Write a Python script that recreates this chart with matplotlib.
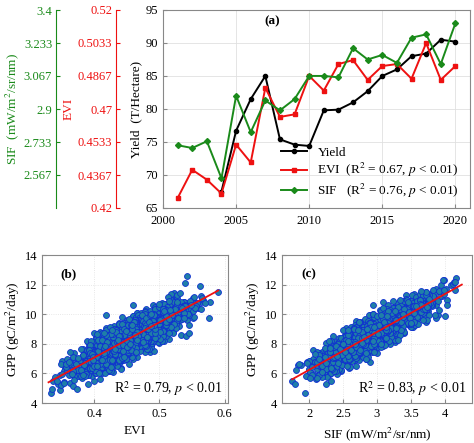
import numpy as np
import matplotlib
matplotlib.use("Agg")
import matplotlib.pyplot as plt
from matplotlib.ticker import FormatStrFormatter

plt.rcParams['font.family'] = ['Liberation Serif', 'DejaVu Serif']
plt.rcParams['font.size'] = 9
plt.rcParams['mathtext.fontset'] = 'stix'

years_yield = list(range(2004, 2021))
yield_vals = [67.5, 76.7, 81.5, 85.0, 75.4, 74.6, 74.4, 79.8, 79.9, 81.0,
              82.7, 85.0, 86.0, 88.0, 88.4, 90.5, 90.2]
years_vi = list(range(2001, 2021))
evi_vals = [0.4250, 0.4393, 0.4343, 0.4273, 0.4520, 0.4430, 0.4807, 0.4660,
            0.4673, 0.4867, 0.4793, 0.4927, 0.4947, 0.4847, 0.4917, 0.4927,
            0.4853, 0.5033, 0.4847, 0.4917]
sif_vals = [2.717, 2.703, 2.737, 2.550, 2.967, 2.783, 2.943, 2.893, 2.950,
            3.067, 3.067, 3.060, 3.207, 3.150, 3.173, 3.133, 3.260, 3.277,
            3.127, 3.333]

# regression lines for panels (b) and (c)
evi_line_x = [0.33, 0.59]
evi_line_y = [5.4, 11.6]
sif_line_x = [1.75, 4.25]
sif_line_y = [5.6, 12.0]

# point clouds: too many points to read one by one, so approximate the cloud
rng = np.random.default_rng(3)

def cloud(mu, sd, lo, hi, n):
    v = rng.normal(mu, sd, n * 2)
    v = v[(v > lo) & (v < hi)]
    return v[:n]

n = 2200
evi_pts = cloud(0.455, 0.042, 0.33, 0.59, n)
gpp_b = 5.4 + (evi_pts - 0.33) * (6.2 / 0.26) + rng.normal(0, 0.6, len(evi_pts))
sif_pts = cloud(2.95, 0.40, 1.75, 4.25, n)
gpp_c = 5.6 + (sif_pts - 1.75) * (6.4 / 2.5) + rng.normal(0, 0.55, len(sif_pts))

fig = plt.figure(figsize=(4.74, 4.43), dpi=100)
W, H = 474, 443

def rect(x0, y0, x1, y1):
    return [x0 / W, 1 - y1 / H, (x1 - x0) / W, (y1 - y0) / H]

green = '#1a8a1a'
red = '#ee1111'

ax = fig.add_axes(rect(163, 10, 470, 208))
ax.plot(years_yield, yield_vals, '-o', color='k', ms=3, lw=1.4, label='Yield')
evi_y = [65 + (v - 0.42) * 300 for v in evi_vals]
sif_y = [65 + (v - 2.4) * 30 for v in sif_vals]
ax.plot(years_vi, evi_y, '-s', color=red, ms=3, lw=1.4,
        label=r'EVI  (R$^2$ = 0.67, $p$ < 0.01)')
ax.plot(years_vi, sif_y, '-D', color=green, ms=3, lw=1.4,
        label=r'SIF   (R$^2$ = 0.76, $p$ < 0.01)')
ax.set_xlim(2000, 2021)
ax.set_ylim(65, 95)
ax.set_xticks([2000, 2005, 2010, 2015, 2020])
ax.set_yticks(range(65, 96, 5))
ax.grid(True, color='#e0e0e0', lw=0.6)
ax.set_ylabel('Yield  (T/Hectare)', fontsize=9.5, labelpad=2)
ax.text(0.33, 0.93, '(a)', transform=ax.transAxes, fontweight='bold', fontsize=9.5)
ax.legend(loc='lower right', frameon=False, fontsize=9.5, handlelength=2,
          borderpad=0.1, labelspacing=0.2, bbox_to_anchor=(0.99, 0.0))
for s in ax.spines.values():
    s.set_color('#888888')
ax.tick_params(direction='in', length=3, color='#888888')
ax.tick_params(axis='x', pad=5)

# EVI axis
ax_e = fig.add_axes(rect(115, 10, 116, 208))
ax_e.set_ylim(0.42, 0.52)
ax_e.set_yticks(np.linspace(0.42, 0.52, 7))
ax_e.set_yticklabels(['0.42', '0.4367', '0.4533', '0.47', '0.4867', '0.5033', '0.52'])
ax_e.set_xticks([])
for k in ['top', 'bottom', 'left']:
    ax_e.spines[k].set_visible(False)
ax_e.spines['right'].set_color(red)
ax_e.tick_params(axis='y', direction='out', colors=red, labelleft=True,
                 left=False, right=True, length=3, pad=-1)
ax_e.patch.set_visible(False)
ax_e.set_ylabel('EVI', color=red, fontsize=9.5, labelpad=2)

# SIF axis
ax_s = fig.add_axes(rect(55, 10, 56, 208))
ax_s.set_ylim(2.4, 3.4)
ax_s.set_yticks([2.567, 2.733, 2.9, 3.067, 3.233, 3.4])
ax_s.set_yticklabels(['2.567', '2.733', '2.9', '3.067', '3.233', '3.4'])
ax_s.set_xticks([])
for k in ['top', 'bottom', 'left']:
    ax_s.spines[k].set_visible(False)
ax_s.spines['right'].set_color(green)
ax_s.tick_params(axis='y', direction='out', colors=green, labelleft=True,
                 left=False, right=True, length=3, pad=-1)
ax_s.patch.set_visible(False)
ax_s.set_ylabel(r'SIF  (mW/m$^2$/sr/nm)', color=green, fontsize=9.5, labelpad=2)

def scatter_panel(r, x, y, lx, ly, xlim, xticks, xlabel, tag, r2):
    a = fig.add_axes(rect(*r))
    a.scatter(x, y, s=18, c='#1f7fa8', edgecolors='#1030d0', linewidths=0.6, zorder=2)
    a.plot(lx, ly, color=red, lw=1.3, zorder=3)
    a.set_xlim(*xlim)
    a.set_ylim(4, 14)
    a.set_xticks(xticks)
    a.xaxis.set_major_formatter(FormatStrFormatter('%g'))
    a.set_yticks(range(4, 15, 2))
    a.grid(True, color='#e0e0e0', lw=0.6, ls=':')
    a.set_axisbelow(True)
    a.set_xlabel(xlabel, fontsize=9.5)
    a.set_ylabel(r'GPP (gC/m$^2$/day)', fontsize=9.5, labelpad=2)
    a.text(0.1, 0.85, tag, transform=a.transAxes, fontweight='bold', fontsize=9.5)
    a.text(0.97, 0.07, r'R$^2$ = %s, $p$ < 0.01' % r2, transform=a.transAxes,
           ha='right', fontsize=10)
    for s in a.spines.values():
        s.set_color('#888888')
    a.tick_params(direction='in', length=3, color='#888888')

scatter_panel((42, 255, 228, 403), evi_pts, gpp_b, evi_line_x, evi_line_y,
              (0.32, 0.605), [0.4, 0.5, 0.6], 'EVI', '(b)', '0.79')
scatter_panel((282, 255, 472, 403), sif_pts, gpp_c, sif_line_x, sif_line_y,
              (1.6, 4.4), [2, 2.5, 3, 3.5, 4], r'SIF (mW/m$^2$/sr/nm)', '(c)', '0.83')

fig.savefig('out.png', dpi=100)
